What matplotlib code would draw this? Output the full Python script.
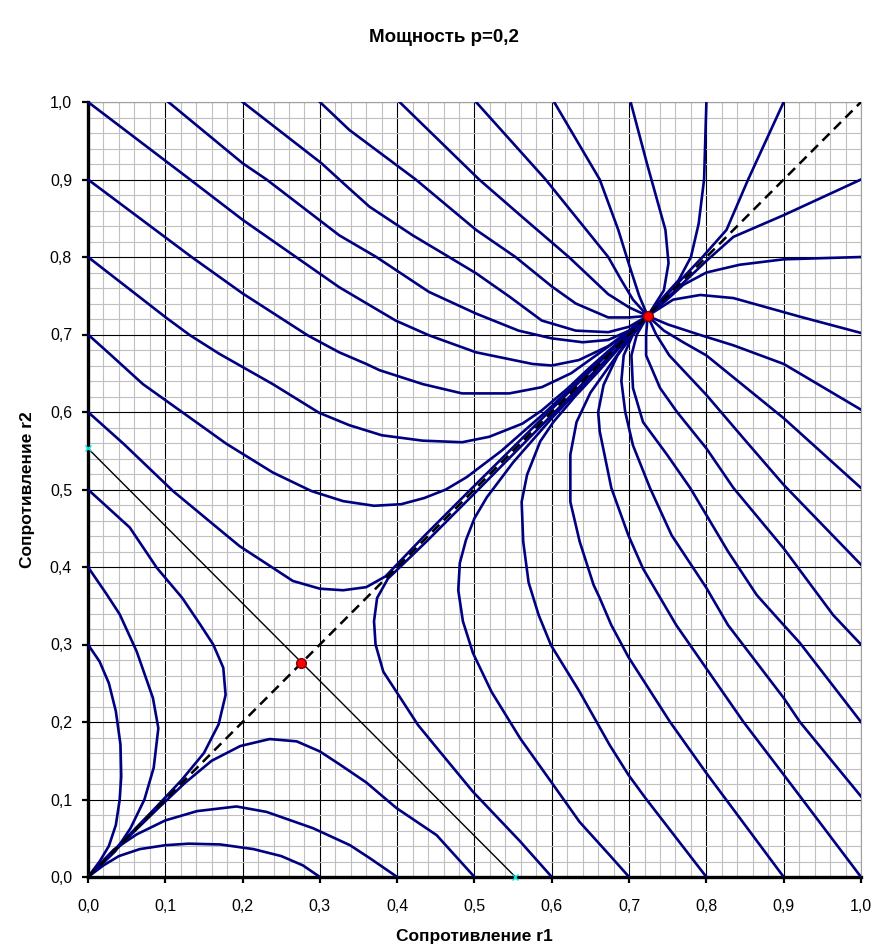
import numpy as np
import matplotlib
matplotlib.use("Agg")
import matplotlib.pyplot as plt
from matplotlib.ticker import MultipleLocator, FuncFormatter

plt.rcParams['font.family'] = ['Liberation Sans', 'DejaVu Sans']

# trajectories read off the lower-right half (r1, r2); the chart is symmetric
# about r1 = r2, so each one is also drawn with the axes swapped
b03 = [(0.300, 0.000), (0.278, 0.015), (0.250, 0.027), (0.214, 0.036), (0.171, 0.042),
       (0.130, 0.043), (0.100, 0.041), (0.067, 0.036), (0.040, 0.027), (0.020, 0.015), (0.0, 0.0)]
b04 = [(0.400, 0.000), (0.365, 0.024), (0.339, 0.041), (0.291, 0.063), (0.231, 0.084),
       (0.192, 0.091), (0.141, 0.085), (0.100, 0.073), (0.063, 0.055), (0.033, 0.035),
       (0.012, 0.013), (0.0, 0.0)]
b05 = [(0.500, 0.000), (0.451, 0.054), (0.399, 0.089), (0.360, 0.122), (0.326, 0.145),
       (0.300, 0.162), (0.270, 0.175), (0.235, 0.178), (0.197, 0.169), (0.160, 0.150),
       (0.125, 0.121), (0.090, 0.088), (0.055, 0.054), (0.025, 0.024), (0.0, 0.0)]
b06 = [(0.600, 0.000), (0.559, 0.046), (0.498, 0.110), (0.455, 0.162), (0.427, 0.196),
       (0.399, 0.239), (0.382, 0.265), (0.372, 0.300), (0.370, 0.330), (0.374, 0.360),
       (0.388, 0.385), (0.412, 0.408), (0.440, 0.435), (0.500, 0.495), (0.600, 0.596),
       (0.700, 0.698), (0.724, 0.724)]
b07 = [(0.700, 0.000), (0.675, 0.028), (0.636, 0.071), (0.599, 0.123), (0.559, 0.179),
       (0.522, 0.239), (0.498, 0.289), (0.485, 0.330), (0.479, 0.370), (0.481, 0.405),
       (0.489, 0.435), (0.500, 0.463), (0.516, 0.490), (0.550, 0.535), (0.600, 0.592),
       (0.650, 0.645), (0.700, 0.697), (0.724, 0.724)]
b08 = [(0.800, 0.000), (0.721, 0.102), (0.699, 0.132), (0.675, 0.170), (0.636, 0.239),
       (0.599, 0.299), (0.583, 0.338), (0.570, 0.380), (0.563, 0.433), (0.561, 0.484),
       (0.568, 0.519), (0.585, 0.562), (0.602, 0.587), (0.630, 0.620), (0.660, 0.652),
       (0.690, 0.686), (0.724, 0.724)]
b09 = [(0.900, 0.000), (0.800, 0.134), (0.753, 0.200), (0.699, 0.284), (0.677, 0.325),
       (0.662, 0.360), (0.654, 0.377), (0.636, 0.433), (0.624, 0.484), (0.624, 0.545),
       (0.632, 0.587), (0.650, 0.625), (0.675, 0.660), (0.700, 0.695), (0.724, 0.724)]
b10 = [(1.000, 0.000), (0.900, 0.132), (0.848, 0.200), (0.800, 0.269), (0.761, 0.325),
       (0.718, 0.398), (0.699, 0.441), (0.677, 0.502), (0.662, 0.575), (0.660, 0.600),
       (0.667, 0.635), (0.685, 0.673), (0.705, 0.700), (0.724, 0.724)]
r01 = [(1.000, 0.104), (0.921, 0.200), (0.900, 0.231), (0.828, 0.325), (0.800, 0.373),
       (0.755, 0.441), (0.727, 0.502), (0.705, 0.557), (0.695, 0.600), (0.690, 0.640),
       (0.693, 0.673), (0.705, 0.700), (0.724, 0.724)]
r02 = [(1.000, 0.200), (0.921, 0.302), (0.891, 0.335), (0.865, 0.364), (0.828, 0.420),
       (0.800, 0.467), (0.779, 0.502), (0.749, 0.545), (0.718, 0.587), (0.705, 0.631),
       (0.703, 0.673), (0.710, 0.700), (0.724, 0.724)]
r03 = [(1.000, 0.300), (0.964, 0.338), (0.900, 0.424), (0.835, 0.502), (0.800, 0.553),
       (0.762, 0.600), (0.740, 0.631), (0.722, 0.673), (0.722, 0.700), (0.724, 0.724)]
r04 = [(1.000, 0.403), (0.900, 0.506), (0.848, 0.566), (0.800, 0.622), (0.752, 0.673),
       (0.735, 0.700), (0.724, 0.724)]
r05 = [(1.000, 0.502), (0.900, 0.592), (0.800, 0.673), (0.770, 0.690), (0.745, 0.705),
       (0.724, 0.724)]
r06 = [(1.000, 0.603), (0.900, 0.662), (0.835, 0.686), (0.790, 0.700), (0.750, 0.713),
       (0.724, 0.724)]
r07 = [(1.000, 0.702), (0.921, 0.723), (0.835, 0.747), (0.792, 0.751), (0.757, 0.745),
       (0.724, 0.724)]
r08 = [(1.000, 0.800), (0.900, 0.797), (0.843, 0.790), (0.800, 0.780), (0.770, 0.764),
       (0.748, 0.744), (0.724, 0.724)]
r09 = [(1.000, 0.900), (0.900, 0.854), (0.835, 0.826), (0.800, 0.795), (0.760, 0.757),
       (0.724, 0.724)]

curves = [b03, b04, b05, b06, b07, b08, b09, b10,
          r01, r02, r03, r04, r05, r06, r07, r08, r09]

fixed_r = [0.276, 0.724]   # saddle and node on the diagonal
sep_r = 0.553              # r1 + r2 = sep_r separatrix

tick_vals = np.arange(0, 1.01, 0.1)

fig = plt.figure(figsize=(8.87, 9.49), dpi=100)
ax = fig.add_axes([88/887, 72/949, 773/887, 775/949])

ax.set_xlim(0, 1)
ax.set_ylim(0, 1)
ax.set_xticks(tick_vals)
ax.set_yticks(tick_vals)
ax.xaxis.set_minor_locator(MultipleLocator(0.02))
ax.yaxis.set_minor_locator(MultipleLocator(0.02))
fmt = FuncFormatter(lambda v, pos: f"{v:.1f}".replace('.', ','))
ax.xaxis.set_major_formatter(fmt)
ax.yaxis.set_major_formatter(fmt)

ax.grid(which='minor', color='#c0c0c0', lw=0.8, zorder=0)
ax.grid(which='major', color='black', lw=0.8, zorder=0)
ax.set_axisbelow(True)
ax.tick_params(which='minor', length=0)
ax.tick_params(axis='x', which='major', direction='out', length=4.5, width=1.6,
               labelsize=11.5, pad=11)
ax.tick_params(axis='y', which='major', direction='out', length=4.5, width=1.6,
               labelsize=11.5, pad=7)

for s in ['left', 'bottom']:
    ax.spines[s].set_linewidth(2.4)
    ax.spines[s].set_color('black')
for s in ['top', 'right']:
    ax.spines[s].set_linewidth(0.8)
    ax.spines[s].set_color('#a0a0a0')

for c in curves:
    a = np.array(c)
    ax.plot(a[:, 0], a[:, 1], color='#000080', lw=1.9, solid_joinstyle='round', zorder=3)
    ax.plot(a[:, 1], a[:, 0], color='#000080', lw=1.9, solid_joinstyle='round', zorder=3)

ax.plot([0, 1], [0, 1], color='black', lw=1.8, dashes=(4, 2.5), zorder=4)
ax.plot([0, sep_r], [sep_r, 0], color='black', lw=1.0, zorder=4)
ax.plot([0, sep_r], [sep_r, 0], 'x', color='#00e0e0', ms=5, mew=1, zorder=6, clip_on=False)
ax.plot(fixed_r, fixed_r, 'o', ms=7, mfc='red', mec='#800000', mew=1, zorder=5)

fig.text(0.5006, 0.96, 'Мощность p=0,2', ha='center', va='center',
         fontsize=13.5, fontweight='bold')
fig.text(474.5/887, 1 - 937/949, 'Сопротивление r1', ha='center', va='center',
         fontsize=12.5, fontweight='bold')
fig.text(28/887, 1 - 490/949, 'Сопротивление r2', ha='center', va='center',
         rotation=90, fontsize=12.5, fontweight='bold')

fig.savefig('out.png', dpi=100)
